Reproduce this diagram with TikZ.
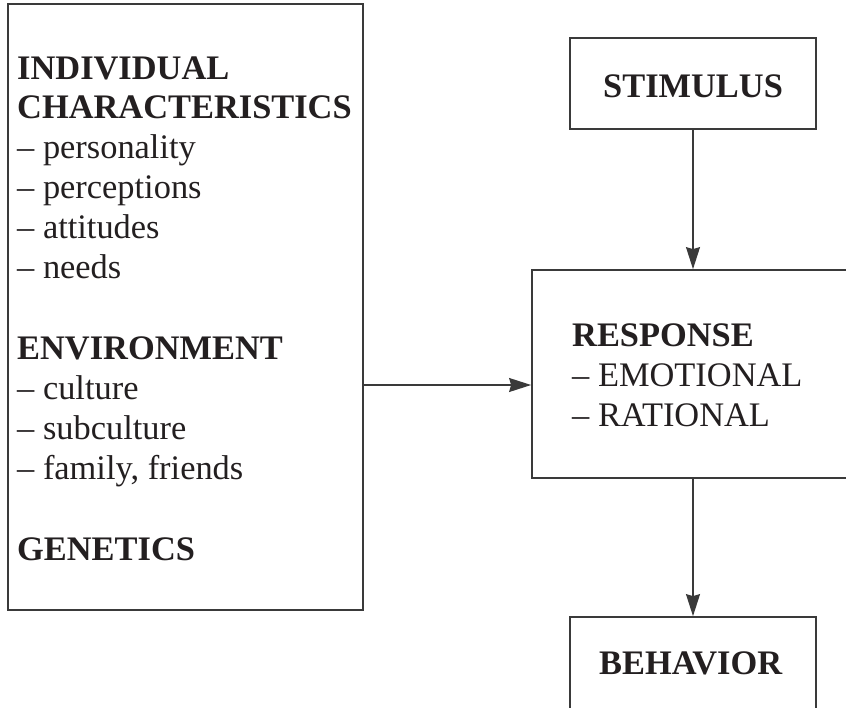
\documentclass[tikz,border=0pt]{standalone}
\usepackage{fontspec}
\setmainfont{Liberation Serif}
\usetikzlibrary{arrows.meta}
\definecolor{ink}{HTML}{231F20}
\definecolor{rule}{HTML}{3A3A3A}
\begin{document}
\begin{tikzpicture}[x=1pt,y=-1pt,
  box/.style={draw=rule,line width=1.8pt,inner sep=0pt,fill=none},
  head/.style={anchor=base west,inner sep=0pt,text=ink,font=\fontsize{34.4}{40}\selectfont\bfseries},
  item/.style={anchor=base west,inner sep=0pt,text=ink,font=\fontsize{34.4}{40}\selectfont},
  flow/.style={draw=rule,line width=1.3pt,-{Stealth[length=22pt,width=14pt,inset=2pt]}}]
\useasboundingbox (0,0) rectangle (846,707);
\clip (0,0) rectangle (846,707);
\fill[white] (0,0) rectangle (846,707);

% boxes
\node[box,minimum width=355pt,minimum height=606pt] (factors) at (185.5,307) {};
\node[box,minimum width=246pt,minimum height=91pt] (stim) at (693,83.5) {};
\node[box,minimum width=338pt,minimum height=208pt] (resp) at (701,374) {};
\node[box,minimum width=246pt,minimum height=143pt] (beh) at (693,688.5) {};

% left box text
\node[head] (t1) at (17,79) {INDIVIDUAL};
\node[head] (t2) at (17,118) {CHARACTERISTICS};
\node[item] (t3) at (17,158) {– personality};
\node[item] (t4) at (17,198) {– perceptions};
\node[item] (t5) at (17,238) {– attitudes};
\node[item] (t6) at (17,278) {– needs};
\node[head] (t7) at (17,359) {ENVIRONMENT};
\node[item] (t8) at (17,399) {– culture};
\node[item] (t9) at (17,439) {– subculture};
\node[item] (t10) at (17,479) {– family, friends};
\node[head] (t11) at (17,560) {GENETICS};

% right column text
\node[head] (s1) at (603,97) {STIMULUS};
\node[head] (r1) at (572,346) {RESPONSE};
\node[item] (r2) at (572,386) {– EMOTIONAL};
\node[item] (r3) at (572,426) {– RATIONAL};
\node[head] (b1) at (599,674) {BEHAVIOR};

% connectors
\coordinate (arrowrow) at (0,385);
\draw[flow] (factors.east |- arrowrow) -- (resp.west |- arrowrow);
\draw[flow] (stim.south) -- (stim.south |- resp.north);
\draw[flow] (beh.north |- resp.south) -- (beh.north);
\end{tikzpicture}
\end{document}
